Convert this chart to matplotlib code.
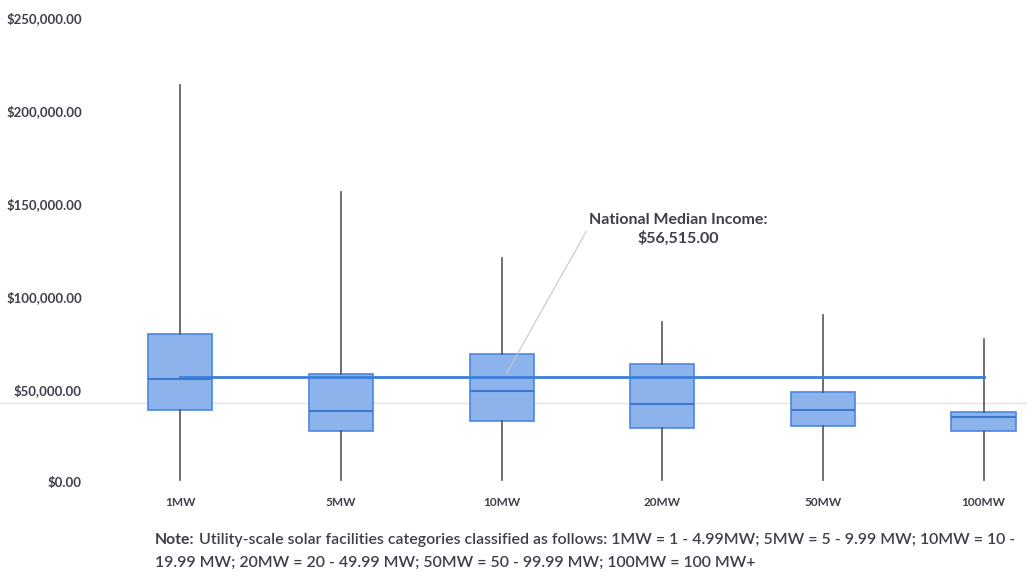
import matplotlib.pyplot as plt

plt.rcParams['font.family'] = ['Lato', 'DejaVu Sans']

# Box plot stats (US$ median household income)
categories = ["1MW", "5MW", "10MW", "20MW", "50MW", "100MW"]
whisker_low = [1000, 1000, 1000, 1000, 1000, 1000]
q1 = [38800, 27500, 32900, 29100, 30200, 27500]
medians = [55500, 38300, 49000, 42000, 38800, 35000]
q3 = [79700, 58200, 69000, 63600, 48500, 37700]
whisker_high = [214000, 156000, 120700, 86000, 90000, 77000]

national_median = 56515
faint_ref = 42500  # faint grey reference line across the chart
y_ticks = [0, 50000, 100000, 150000, 200000, 250000]

text_color = "#3f3f4c"
box_fill = "#8db3ec"
box_edge = "#4c86df"
line_blue = "#3a7fd8"

fig = plt.figure(figsize=(10.27, 5.77), dpi=100)
ax = fig.add_axes([100 / 1027, 95 / 577, 927 / 1027, 464 / 577])

stats = []
for i, name in enumerate(categories):
    stats.append({
        "label": name,
        "whislo": whisker_low[i],
        "q1": q1[i],
        "med": medians[i],
        "q3": q3[i],
        "whishi": whisker_high[i],
        "fliers": [],
    })

positions = list(range(len(categories)))

# faint horizontal line running across the whole figure
ax.axhline(faint_ref, xmin=-0.2, xmax=1.0, color="#e4e4e4", lw=1, zorder=0, clip_on=False)

ax.bxp(stats, positions=positions, widths=0.4, patch_artist=True, showcaps=False,
       boxprops=dict(facecolor=box_fill, edgecolor=box_edge, linewidth=1.2),
       medianprops=dict(color="#3d78cf", linewidth=1.5),
       whiskerprops=dict(color="#555555", linewidth=1.2),
       manage_ticks=False, zorder=2)

# national median income line
ax.plot([positions[0], positions[-1]], [national_median, national_median],
        color=line_blue, lw=2, zorder=3)

# label with leader line
ax.annotate("National Median Income:\n$56,515.00",
            xy=(2.03, national_median + 2000), xytext=(3.1, 136000),
            ha="center", va="center", fontsize=11.5, fontweight="bold",
            color=text_color, linespacing=1.25,
            arrowprops=dict(arrowstyle="-", color="#c8c8c8", lw=0.8,
                            shrinkA=0, shrinkB=0, relpos=(0.0, 0.6)))

ax.set_xlim(-0.5, 5.27)
ax.set_ylim(0, 250000)
ax.set_yticks(y_ticks)
ax.set_yticklabels([f"${v:,.2f}" for v in y_ticks])
ax.set_xticks(positions)
ax.set_xticklabels(categories)
ax.tick_params(axis="y", length=0, pad=13, labelsize=9.5, labelcolor=text_color)
ax.tick_params(axis="x", length=0, pad=11, labelsize=8.5, labelcolor=text_color)
for lbl in ax.get_yticklabels() + ax.get_xticklabels():
    lbl.set_fontweight("bold")
for s in ax.spines.values():
    s.set_visible(False)

# note below the chart, "Note:" in bold
note_x = 155 / 1027
line1_y = 1 - 540 / 577
line2_y = 1 - 563 / 577
t = fig.text(note_x, line1_y, "Note:", fontsize=11.4, fontweight="bold",
             color=text_color, va="center")
r = fig.canvas.get_renderer()
bb = t.get_window_extent(renderer=r)
fig.text(bb.x1 / fig.bbox.width + 4 / 1027, line1_y,
         "Utility-scale solar facilities categories classified as follows: "
         "1MW = 1 - 4.99MW; 5MW = 5 - 9.99 MW; 10MW = 10 -",
         fontsize=11.4, fontweight="semibold", color=text_color, va="center")
fig.text(note_x, line2_y,
         "19.99 MW; 20MW = 20 - 49.99 MW; 50MW = 50 - 99.99 MW; 100MW = 100 MW+",
         fontsize=11.4, fontweight="semibold", color=text_color, va="center")

fig.savefig("out.png", dpi=100)
